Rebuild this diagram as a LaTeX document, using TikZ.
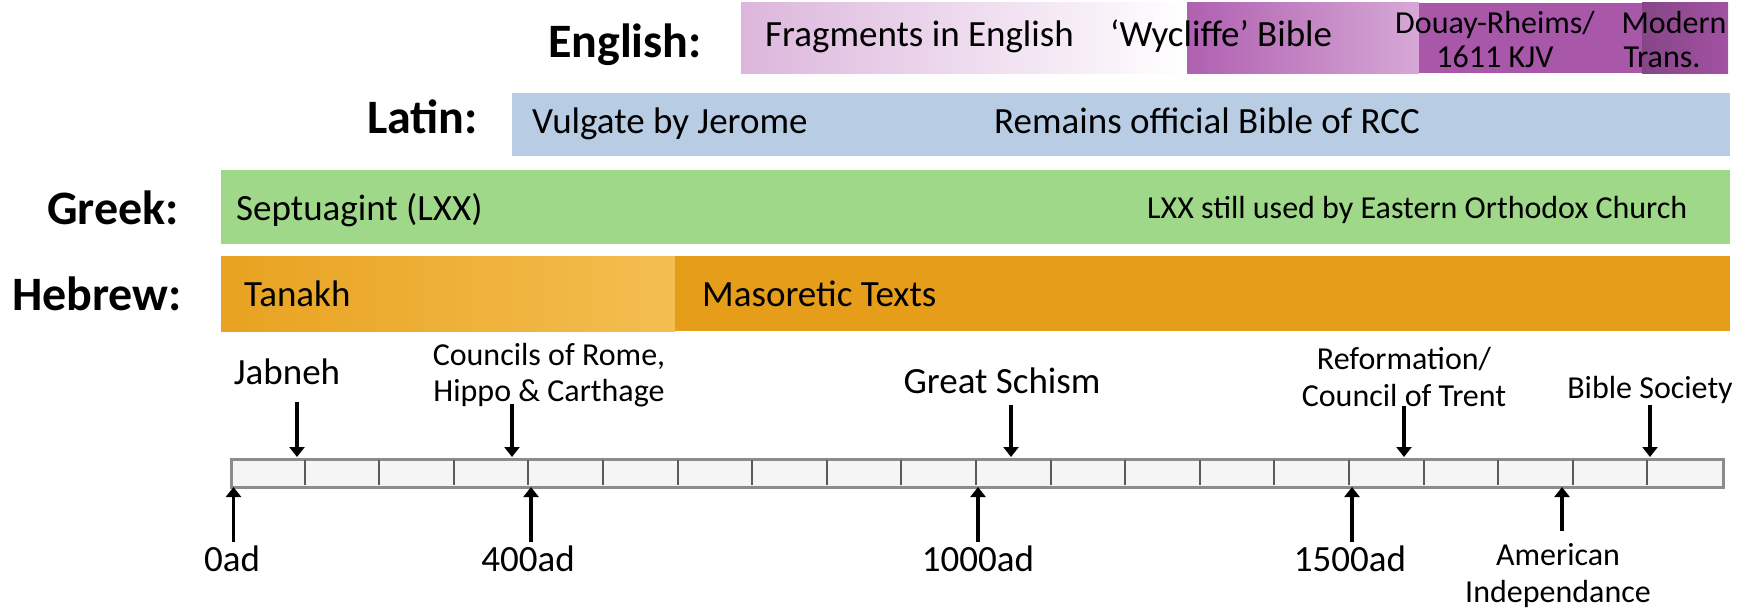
\documentclass[tikz,border=0pt]{standalone}
\usepackage{fontspec}
\setmainfont{Carlito}
\usetikzlibrary{arrows.meta}

\definecolor{engpink}{RGB}{220,182,220}
\definecolor{wycA}{RGB}{176,96,176}
\definecolor{wycB}{RGB}{214,168,214}
\definecolor{douay}{RGB}{169,88,169}
\definecolor{modernA}{RGB}{134,70,134}
\definecolor{modernB}{RGB}{162,82,162}
\definecolor{latinblue}{RGB}{184,204,228}
\definecolor{greekgreen}{RGB}{158,216,136}
\definecolor{tanA}{RGB}{232,162,32}
\definecolor{tanB}{RGB}{244,190,80}
\definecolor{maso}{RGB}{229,157,26}
\definecolor{rulerfill}{RGB}{245,245,245}
\definecolor{rulerline}{RGB}{140,140,140}
\definecolor{rulertick}{RGB}{90,90,90}

\tikzset{
  lang/.style={anchor=base east, inner sep=0pt, font=\fontsize{48}{52}\selectfont\bfseries},
  bartext/.style={anchor=base west, inner sep=0pt, font=\fontsize{37}{42}\selectfont},
  barsmall/.style={anchor=base, inner sep=0pt, font=\fontsize{32}{36}\selectfont},
  evt/.style={anchor=base, inner sep=0pt, font=\fontsize{37}{42}\selectfont},
  evtsmall/.style={anchor=base, inner sep=0pt, font=\fontsize{32}{36}\selectfont},
  marker/.style={line width=3.2pt, -{Triangle[length=10pt,width=15pt]}},
}

\begin{document}
\begin{tikzpicture}[x=1pt,y=-1pt]
\useasboundingbox (0,0) rectangle (1752,610);

% ---- English row ----
\shade[left color=engpink, right color=white] (741,3) rectangle (1187,73);
\shade[left color=wycA, right color=wycB] (1187,3) rectangle (1419,73);
\fill[douay] (1419,3) rectangle (1642,73);
\shade[left color=modernA, right color=modernB] (1642,3) rectangle (1728,73);
\node[lang] (english) at (702,58) {English:};
\node[bartext] (fragments) at (765,47) {Fragments in English};
\node[bartext] (wycliffe) at (1110,47) {‘Wycliffe’ Bible};
\node[barsmall] (douay1) at (1495,34) {Douay-Rheims/};
\node[barsmall] (douay2) at (1495,67) {1611 KJV};
\node[barsmall] (modern1) at (1674,34) {Modern};
\node[barsmall] (modern2) at (1662,67) {Trans.};

% ---- Latin row ----
\fill[latinblue] (512,93) rectangle (1730,156);
\node[lang] (latin) at (478,133) {Latin:};
\node[bartext] (vulgate) at (532,133) {Vulgate by Jerome};
\node[bartext] (rcc) at (994,133) {Remains official Bible of RCC};

% ---- Greek row ----
\fill[greekgreen] (221,170) rectangle (1730,244);
\node[lang] (greek) at (179,224) {Greek:};
\node[bartext] (lxx) at (236,220) {Septuagint (LXX)};
\node[bartext, font=\fontsize{32}{36}\selectfont] (orthodox) at (1147,218) {LXX still used by Eastern Orthodox Church};

% ---- Hebrew row ----
\shade[left color=tanA, right color=tanB] (221,256) rectangle (675,331);
\fill[maso] (675,256) rectangle (1730,331);
\node[lang] (hebrew) at (182,310) {Hebrew:};
\node[bartext] (tanakh) at (244,306) {Tanakh};
\node[bartext] (masoretic) at (702,306) {Masoretic Texts};

% ---- timeline ruler: 20 centuries ----
\node[draw=rulerline, fill=rulerfill, line width=2.5pt, minimum width=1492pt, minimum height=28pt,
      inner sep=0pt, anchor=north west] (ruler) at (230,458) {};
\foreach \i in {1,...,19}
  \draw[rulertick, line width=2pt] (230+\i*74.6,459.5) -- (230+\i*74.6,484.5);

% ---- events above the ruler ----
\node[evt] (jabneh) at (287,384) {Jabneh};
\node[evtsmall] (councils1) at (549,365) {Councils of Rome,};
\node[evtsmall] (councils2) at (549,401) {Hippo \& Carthage};
\node[evt] (schism) at (1002,393) {Great Schism};
\node[evtsmall] (reform1) at (1404,369) {Reformation/};
\node[evtsmall] (reform2) at (1404,406) {Council of Trent};
\node[evtsmall] (society) at (1650,398) {Bible Society};

\coordinate (jabneh-s) at (297,402);   \coordinate (jabneh-t) at (297,457);
\coordinate (councils-s) at (512,404); \coordinate (councils-t) at (512,457);
\coordinate (schism-s) at (1011,405);  \coordinate (schism-t) at (1011,457);
\coordinate (reform-s) at (1404,406);  \coordinate (reform-t) at (1404,457);
\coordinate (society-s) at (1650,405); \coordinate (society-t) at (1650,457);
\draw[marker] (jabneh-s) -- (jabneh-t);
\draw[marker] (councils-s) -- (councils-t);
\draw[marker] (schism-s) -- (schism-t);
\draw[marker] (reform-s) -- (reform-t);
\draw[marker] (society-s) -- (society-t);

% ---- dates below the ruler ----
\node[evt] (ad0) at (232,571) {0ad};
\node[evt] (ad400) at (528,571) {400ad};
\node[evt] (ad1000) at (978,571) {1000ad};
\node[evt] (ad1500) at (1350,571) {1500ad};
\node[evtsmall] (amer1) at (1558,565) {American};
\node[evtsmall] (amer2) at (1558,602) {Independance};

\coordinate (ad0-s) at (233.5,542);   \coordinate (ad0-t) at (233.5,487);
\coordinate (ad400-s) at (531,542);   \coordinate (ad400-t) at (531,487);
\coordinate (ad1000-s) at (978,542);  \coordinate (ad1000-t) at (978,487);
\coordinate (ad1500-s) at (1352,542); \coordinate (ad1500-t) at (1352,487);
\coordinate (amer-s) at (1562,531);   \coordinate (amer-t) at (1562,487);
\draw[marker] (ad0-s) -- (ad0-t);
\draw[marker] (ad400-s) -- (ad400-t);
\draw[marker] (ad1000-s) -- (ad1000-t);
\draw[marker] (ad1500-s) -- (ad1500-t);
\draw[marker] (amer-s) -- (amer-t);
\end{tikzpicture}
\end{document}
